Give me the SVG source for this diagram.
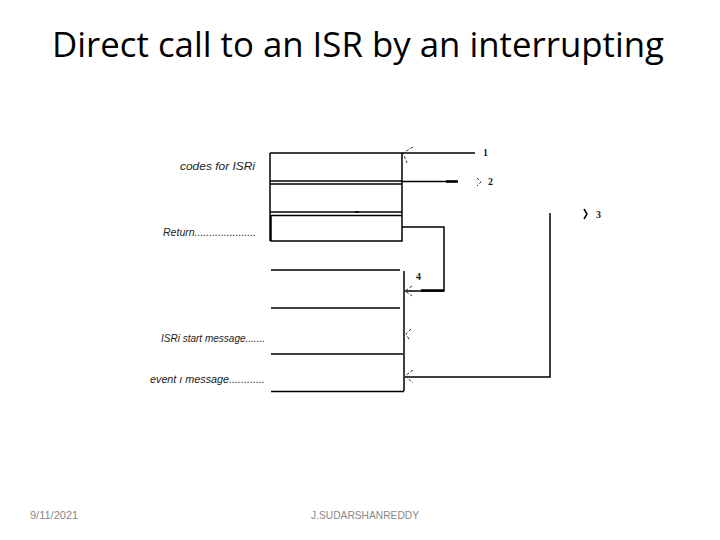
<svg xmlns="http://www.w3.org/2000/svg" width="720" height="540" viewBox="0 0 720 540">
<style>
.ln{stroke:#000;stroke-width:1.5;fill:none}
.thk{stroke:#000;stroke-width:2.5;fill:none}
.ah{stroke:#333;stroke-width:1;fill:none;stroke-dasharray:3 2}
.lbl{font-family:"Liberation Sans",Arial,sans-serif;font-size:10.5px;font-style:italic;fill:#222}
.num{font-family:"Liberation Serif","Times New Roman",serif;font-size:10px;font-weight:bold;fill:#222}
.foot{font-family:"Liberation Sans",Arial,sans-serif;font-size:11px;fill:#888}
</style>
<rect width="720" height="540" fill="#fff"/>
<text x="358" y="57" text-anchor="middle" font-family="'Open Sans','Liberation Sans',sans-serif" font-size="34" fill="#000" textLength="612" lengthAdjust="spacingAndGlyphs">Direct call to an ISR by an interrupting</text>
<g id="isr-code">
<path class="ln" d="M270 153H402V241H271V215M270 153V241"/>
<path class="ln" d="M270 181H402M270 184H402M270 212H402M270 215.5H402"/>
<path class="ln" d="M355 212H359"/>
<text class="lbl" x="180" y="170" textLength="75" lengthAdjust="spacingAndGlyphs">codes for ISRi</text>
<text class="lbl" x="163" y="236" textLength="93" lengthAdjust="spacingAndGlyphs">Return.....................</text>
</g>
<g id="stack">
<path class="ln" d="M271 270H400M404 271V391M271 308H400M271 354H403M271 391.5H404"/>
<text class="lbl" x="161" y="342" textLength="104" lengthAdjust="spacingAndGlyphs">ISRi start message.......</text>
<text class="lbl" x="150" y="383" textLength="115" lengthAdjust="spacingAndGlyphs">event ı message............</text>
</g>
<g id="connectors">
<path class="ln" d="M402 153H475"/>
<text class="num" x="483" y="156">1</text>
<path class="ln" d="M402 181.5H458"/>
<path class="thk" d="M446 181.5H458"/>
<path class="ah" d="M477 178L481 182L477 186"/>
<text class="num" x="488" y="185">2</text>
<path class="ln" d="M584 209L587 214L584 219"/>
<text class="num" x="596" y="218">3</text>
<path class="ln" d="M402 227H444V291H405"/>
<path class="thk" d="M421 290.5H444"/>
<text class="num" x="416" y="280">4</text>
<path class="ln" d="M550 213V377H405"/>
<path class="ah" d="M413 147L403 153L407 163"/>
<path class="ah" d="M412 286L405 291L412 296"/>
<path class="ah" d="M411 329L406 334L410 341"/>
<path class="ah" d="M413 370L405 376L413 383"/>
</g>
<text class="foot" x="30" y="519">9/11/2021</text>
<text class="foot" x="311" y="519" textLength="108" lengthAdjust="spacingAndGlyphs">J.SUDARSHANREDDY</text>
</svg>
